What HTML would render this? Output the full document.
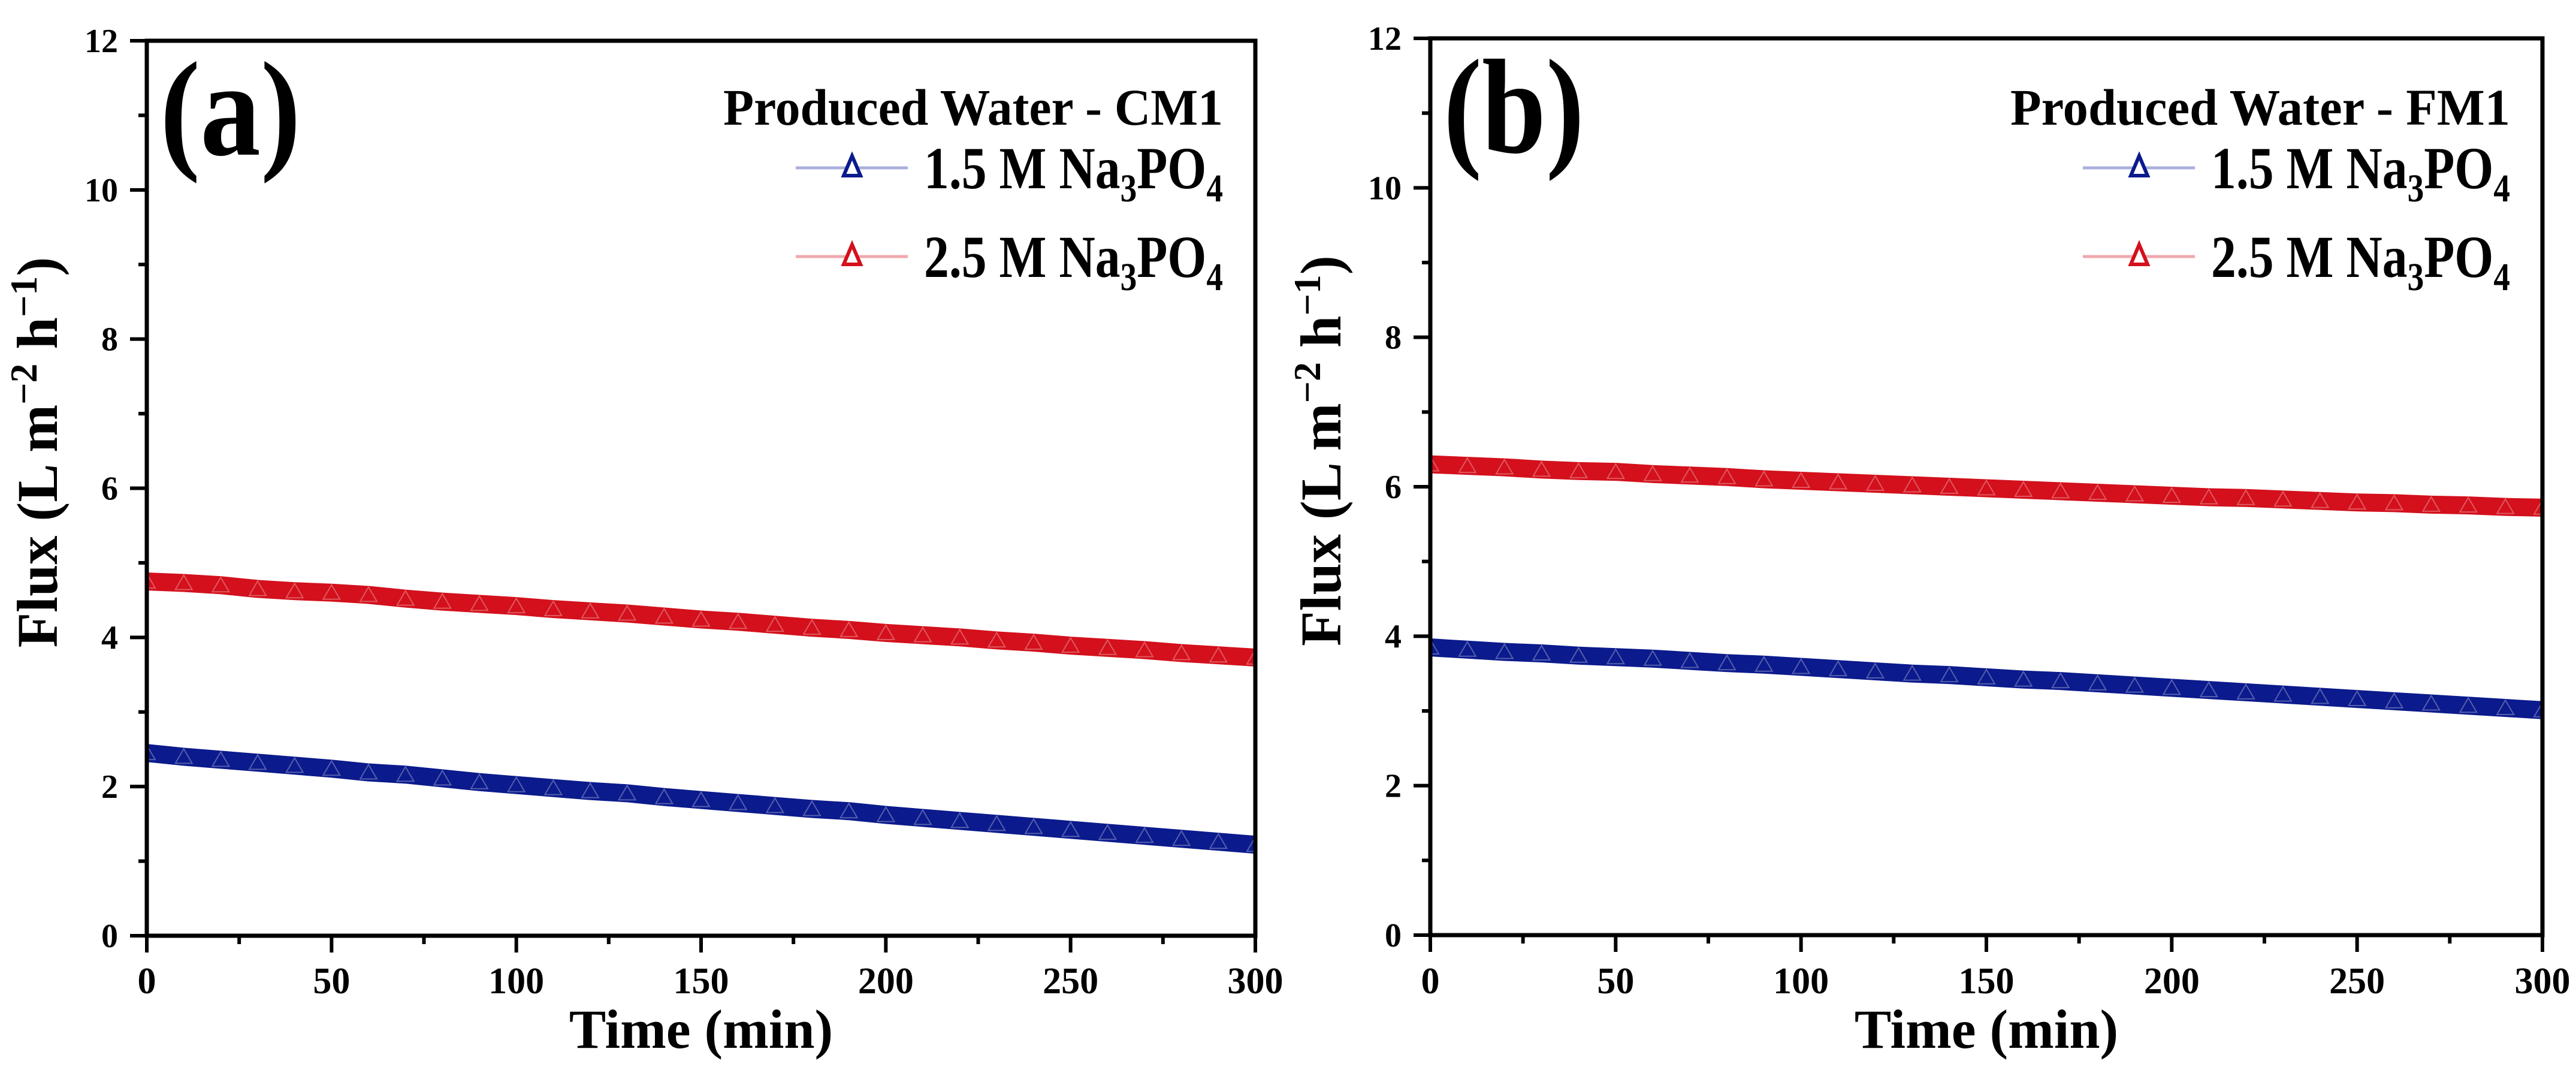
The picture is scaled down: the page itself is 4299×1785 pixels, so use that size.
<!DOCTYPE html>
<html><head><meta charset="utf-8"><style>
html,body{margin:0;padding:0;background:#fff;}
svg{display:block;font-family:"Liberation Serif",serif;font-weight:bold;}
</style></head><body>
<svg id="chart" width="4299" height="1785" viewBox="0 0 4299 1785" xmlns="http://www.w3.org/2000/svg"></svg>
<script>
const times = [0,10,20,30,40,50,60,70,80,90,100,110,120,130,140,150,160,170,180,190,200,210,220,230,240,250,260,270,280,290,300];
const aBlue = [2.45,2.40,2.36,2.32,2.28,2.24,2.19,2.16,2.11,2.06,2.02,1.98,1.94,1.91,1.86,1.82,1.78,1.74,1.70,1.67,1.62,1.58,1.54,1.50,1.46,1.42,1.38,1.34,1.30,1.26,1.22];
const aRed = [4.75,4.73,4.70,4.65,4.62,4.60,4.57,4.52,4.48,4.45,4.42,4.38,4.35,4.32,4.28,4.24,4.21,4.17,4.13,4.10,4.06,4.03,4.00,3.96,3.93,3.89,3.86,3.83,3.79,3.76,3.73];
const bBlue = [3.85,3.82,3.79,3.77,3.74,3.72,3.70,3.67,3.64,3.62,3.59,3.56,3.53,3.50,3.48,3.45,3.42,3.40,3.37,3.34,3.31,3.28,3.25,3.22,3.19,3.16,3.13,3.10,3.07,3.04,3.01];
const bRed = [6.30,6.28,6.26,6.23,6.21,6.20,6.17,6.15,6.13,6.10,6.08,6.06,6.04,6.02,6.00,5.98,5.96,5.94,5.92,5.90,5.88,5.86,5.85,5.83,5.81,5.79,5.78,5.76,5.75,5.73,5.72];
const xTicks = [0,50,100,150,200,250,300];
const yTicks = [0,2,4,6,8,10,12];
const legendTitles = ["Produced Water - CM1","Produced Water - FM1"];
const panelLetters = ["(a)","(b)"];

const NS="http://www.w3.org/2000/svg";
const svg=document.getElementById('chart');
function mk(tag,attrs,parent){const e=document.createElementNS(NS,tag);for(const k in attrs)e.setAttribute(k,attrs[k]);(parent||svg).appendChild(e);return e;}
const BLUE="#0b1a8c", RED="#d3101c";

function panel(idx,L,R,T,B,series){
  const g=mk('g',{});
  
  
  const x=v=>L+(v-0)/300*(R-L);
  const y=v=>B-(v-0)/12*(B-T);
  series.forEach(s=>{
    const sg=mk('g',{},g);
    
    
    const pts=times.map((t,i)=>x(t)+','+y(s.vals[i])).join(' ');
    const pl=mk('polyline',{points:pts,fill:'none',stroke:s.color,'stroke-width':30,'stroke-linejoin':'round'},sg);
    
    
    times.forEach((t,i)=>{
      const cx=x(t), cy=y(s.vals[i]);
      const tr=mk('polygon',{points:`${cx-14},${cy+11} ${cx+14},${cy+11} ${cx},${cy-13}`,fill:'none',stroke:'rgba(255,255,255,0.3)','stroke-width':2},sg);
      
      
    });
  });
  const fr=mk('rect',{x:L,y:T,width:R-L,height:B-T,fill:'none',stroke:'#000','stroke-width':7},g);
  
  
  for(let v=0;v<=300;v+=25){
    const maj=v%50===0;
    const tk=mk('line',{x1:x(v),x2:x(v),y1:B,y2:B+(maj?28:14),stroke:'#000','stroke-width':6},g);
    
    
  }
  xTicks.forEach(v=>{
    const t=mk('text',{x:x(v),y:1657,'font-size':62,'text-anchor':'middle'},g);
    t.textContent=v;
    
    
  });
  for(let v=0;v<=12;v+=1){
    const maj=v%2===0;
    const tk=mk('line',{x1:L-(maj?28:14),x2:L,y1:y(v),y2:y(v),stroke:'#000','stroke-width':6},g);
    
    
  }
  yTicks.forEach(v=>{
    const t=mk('text',{x:L-48,y:y(v)+19,'font-size':56,'text-anchor':'end'},g);
    t.textContent=v;
    
    
  });
  const xt=mk('text',{x:(L+R)/2,y:1748,'font-size':92,'text-anchor':'middle'},g);
  xt.textContent='Time (min)';
  
  
  const yt=mk('text',{x:0,y:0,'font-size':96,'text-anchor':'middle',transform:`translate(${L-150},${(T+B)/2-60}) rotate(-90)`},g);
  yt.innerHTML='Flux (L m<tspan dy="-34" font-size="64">−2</tspan><tspan dy="34"> h</tspan><tspan dy="-34" font-size="64">−1</tspan><tspan dy="34">)</tspan>';
  
  
  const pl=mk('text',{x:L+22,y:T+190,'font-size':225,textLength:235,lengthAdjust:'spacingAndGlyphs'},g);
  pl.textContent=panelLetters[idx];
  
  
  const lg=mk('g',{},g);
  
  
  const off=R-2095;
  const lt=mk('text',{x:1207+off,y:208,'font-size':86,textLength:834,lengthAdjust:'spacingAndGlyphs'},lg);
  lt.textContent=legendTitles[idx];
  
  
  series.forEach((s,i)=>{
    const ry=[280,428][i];
    const e=mk('g',{},lg);
    
    
    mk('line',{x1:1328+off,x2:1515+off,y1:ry,y2:ry,stroke:s.light,'stroke-width':5},e);
    mk('polygon',{points:`${1408+off},${ry+13} ${1436+off},${ry+13} ${1422+off},${ry-20}`,fill:'#fff',stroke:s.color,'stroke-width':6},e);
    const tx=mk('text',{x:1542+off,y:ry+34,'font-size':100},e);
    tx.innerHTML=s.label+' Na<tspan dy="22" font-size="66">3</tspan><tspan dy="-22">PO</tspan><tspan dy="22" font-size="66">4</tspan>';
    tx.setAttribute('textLength',499);
    tx.setAttribute('lengthAdjust','spacingAndGlyphs');
  });
}
panel(0,245,2095,68,1561,[
  {name:'series-1.5M',vals:aBlue,color:BLUE,light:'#aab0dc',label:'1.5 M'},
  {name:'series-2.5M',vals:aRed,color:RED,light:'#f0a8ac',label:'2.5 M'}]);
panel(1,2387,4243,64,1560,[
  {name:'series-1.5M',vals:bBlue,color:BLUE,light:'#aab0dc',label:'1.5 M'},
  {name:'series-2.5M',vals:bRed,color:RED,light:'#f0a8ac',label:'2.5 M'}]);
</script>
</body></html>
